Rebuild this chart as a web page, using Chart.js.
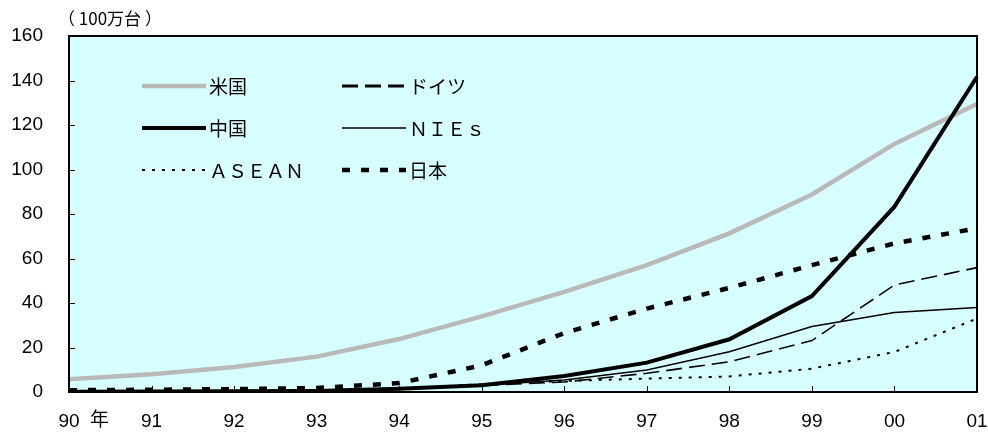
<!DOCTYPE html>
<html>
<head>
<meta charset="utf-8">
<script src="https://cdn.jsdelivr.net/npm/chart.js@4/dist/chart.umd.min.js"></script>
<style>
  html, body { margin: 0; padding: 0; background: #ffffff; }
  #wrap { width: 988px; height: 432px; position: relative; }
</style>
</head>
<body>
<div id="wrap"><canvas id="c"></canvas></div>
<script>
// 生産台数（100万台）
const years   = ['90', '91', '92', '93', '94', '95', '96', '97', '98', '99', '00', '01'];
const usa     = [5.7, 8.0, 11.2, 15.9, 23.8, 34.0, 45.0, 57.0, 71.3, 88.8, 111.5, 129.4];
const china   = [0.1, 0.2, 0.3, 0.5, 1.5, 3.0, 7.2, 13.2, 23.7, 43.1, 83.3, 141.7];
const germany = [0.3, 0.4, 0.5, 0.8, 1.5, 3.0, 4.5, 8.4, 13.6, 23.1, 48.1, 55.9];
const nies    = [0.3, 0.4, 0.5, 0.8, 1.5, 3.0, 5.4, 9.9, 18.1, 29.4, 35.7, 38.0];
const asean   = [0.2, 0.3, 0.4, 0.6, 1.5, 3.5, 5.0, 6.0, 7.0, 10.5, 18.0, 33.0];
const japan   = [0.8, 1.0, 1.3, 1.8, 4.0, 12.0, 26.5, 37.5, 46.8, 57.0, 66.8, 73.6];
const yTicks  = [0, 20, 40, 60, 80, 100, 120, 140, 160];
const unitLabel = '（ 100万台 ）';
const yearUnit = '年';

const numFont = '"Liberation Sans", Arial, sans-serif';
const jpFont = '"Noto Sans CJK JP", sans-serif';

function series(label, data, color, width, dash, col, row, legendWidth) {
  return {
    label, data,
    borderColor: color,
    backgroundColor: color,
    borderWidth: width,
    borderDash: dash,
    borderCapStyle: 'butt',
    pointRadius: 0,
    tension: 0,
    fill: false,
    legendCol: col,
    legendRow: row,
    legendWidth: legendWidth || width
  };
}

const datasets = [
  series('中国', china, '#000000', 4, [], 0, 1),
  series('ＮＩＥｓ', nies, '#000000', 1.6, [], 1, 1),
  series('ドイツ', germany, '#000000', 1.6, [16, 7], 1, 0, 3),
  series('ＡＳＥＡＮ', asean, '#000000', 2, [3, 7], 0, 2),
  series('日本', japan, '#000000', 4.5, [8, 11], 1, 2),
  series('米国', usa, '#b9b9b9', 4.5, [], 0, 0)
];

// plot background, frame, inner tick marks, legend and unit labels
const decor = {
  id: 'decor',
  beforeDraw(chart) {
    const { ctx, chartArea: a } = chart;
    ctx.save();
    ctx.fillStyle = '#d8ffff';
    ctx.fillRect(a.left, a.top, a.right - a.left, a.bottom - a.top);
    ctx.restore();
  },
  afterDatasetsDraw(chart) {
    const { ctx, chartArea: a, scales } = chart;
    ctx.save();
    // frame
    ctx.strokeStyle = '#000';
    ctx.lineWidth = 2;
    ctx.strokeRect(a.left, a.top, a.right - a.left, a.bottom - a.top);
    // tick marks pointing inward
    ctx.lineWidth = 1;
    ctx.beginPath();
    yTicks.forEach(v => {
      const y = Math.round(scales.y.getPixelForValue(v)) + 0.5;
      ctx.moveTo(a.left, y); ctx.lineTo(a.left + 6, y);
    });
    years.forEach((_, i) => {
      const x = Math.round(scales.x.getPixelForValue(i)) + 0.5;
      ctx.moveTo(x, a.bottom); ctx.lineTo(x, a.bottom - 6);
    });
    ctx.stroke();

    // legend: two columns, three rows
    const colX = [a.left + 73, a.left + 273];
    const rowY = [a.top + 50, a.top + 92, a.top + 134];
    const lineLen = 64;
    ctx.font = '19px ' + jpFont;
    ctx.textBaseline = 'middle';
    ctx.fillStyle = '#000';
    chart.data.datasets.forEach(ds => {
      const x0 = colX[ds.legendCol], y = rowY[ds.legendRow];
      ctx.save();
      ctx.strokeStyle = ds.borderColor;
      ctx.lineWidth = ds.legendWidth;
      ctx.setLineDash(ds.borderDash);
      ctx.lineCap = 'butt';
      ctx.beginPath();
      ctx.moveTo(x0, y); ctx.lineTo(x0 + lineLen, y);
      ctx.stroke();
      ctx.restore();
      ctx.fillText(ds.label, x0 + lineLen + 3, y + 1);
    });

    // unit labels
    ctx.font = '17px ' + jpFont;
    ctx.textBaseline = 'middle';
    ctx.fillText(unitLabel, 58, 19);
    ctx.font = '19px ' + jpFont;
    const x90 = scales.x.getPixelForValue(0);
    ctx.fillText(yearUnit, x90 + 21, 419);
    ctx.restore();
  }
};

new Chart(document.getElementById('c'), {
  type: 'line',
  data: { labels: years, datasets },
  options: {
    responsive: true,
    maintainAspectRatio: false,
    animation: false,
    layout: { padding: { left: 0, right: 11, top: 36, bottom: 0 } },
    plugins: { legend: { display: false }, tooltip: { enabled: false } },
    scales: {
      x: {
        offset: false,
        border: { display: false },
        grid: { display: false, drawTicks: false },
        ticks: { color: '#000', font: { family: numFont, size: 19 }, padding: 18, maxRotation: 0, autoSkip: false },
        afterFit(scale) { scale.height = 40; scale.paddingLeft = 0; scale.paddingRight = 0; }
      },
      y: {
        min: 0, max: 160,
        border: { display: false },
        grid: { display: false, drawTicks: false },
        afterBuildTicks(scale) { scale.ticks = yTicks.map(v => ({ value: v })); },
        ticks: { color: '#000', font: { family: numFont, size: 19 }, padding: 26 },
        afterFit(scale) { scale.width = 69; scale.paddingTop = 0; scale.paddingBottom = 0; }
      }
    }
  },
  plugins: [decor]
});
</script>
</body>
</html>
